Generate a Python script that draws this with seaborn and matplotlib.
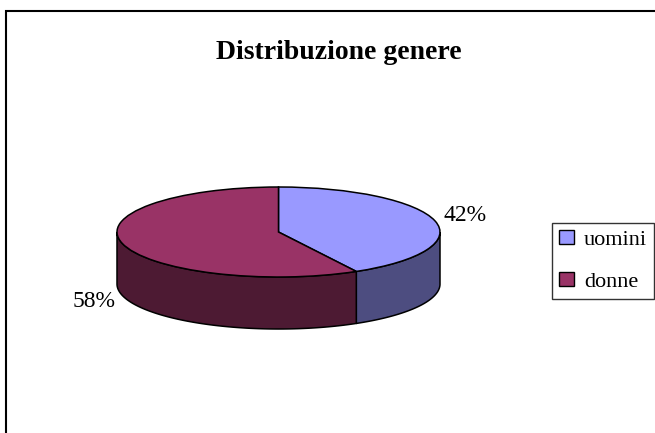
import numpy as np
import matplotlib
matplotlib.use("Agg")
import matplotlib.pyplot as plt
from matplotlib.patches import Rectangle, Patch
import seaborn as sns

# data
categories = ["uomini", "donne"]
shares = [42, 58]
pct_labels = ["42%", "58%"]
top_colors = ["#9999FF", "#993366"]

sns.set_theme(style="white")
plt.rcParams["font.family"] = ["Liberation Serif", "DejaVu Serif"]
plt.rcParams["text.color"] = "black"

# top ellipse in pixels: centre (278.5, 232), half axes 161.5 x 45, side depth 52
W, H = 655, 433
cx, cy, a, b, depth = 278.5, 232, 161.5, 45, 52
D = depth / b

side_colors = [tuple(c * 0.5 for c in matplotlib.colors.to_rgb(col)) for col in top_colors]

fig = plt.figure(figsize=(W / 100, H / 100), dpi=100)
ax = fig.add_axes([0, 0, 1, 1])

wedges, _ = ax.pie(shares, startangle=90, counterclock=False, colors=top_colors,
                   wedgeprops=dict(edgecolor="black", linewidth=1.1), radius=1)
for w in wedges:
    w.set_zorder(3)

ax.set_aspect("auto")
ax.set_xlim(-cx / a, (W - cx) / a)
ax.set_ylim(-(H - cy) / b, cy / b)
ax.axis("off")

# visible side band of each slice (front half of the cylinder)
for w, col in zip(wedges, side_colors):
    for k in range(-2, 2):
        lo = max(w.theta1, -180 + 360 * k)
        hi = min(w.theta2, 0 + 360 * k)
        if hi <= lo:
            continue
        t = np.radians(np.linspace(lo, hi, 120))
        xs = np.concatenate([np.cos(t), np.cos(t)[::-1]])
        ys = np.concatenate([np.sin(t), np.sin(t)[::-1] - D])
        ax.fill(xs, ys, facecolor=col, edgecolor="black", linewidth=1.1, zorder=2)

# percentage labels outside the slices
for w, lab in zip(wedges, pct_labels):
    mid = np.radians((w.theta1 + w.theta2) / 2)
    x, y = 1.19 * np.cos(mid), 1.19 * np.sin(mid)
    if y < 0:
        x += 0.01
        y -= D + 0.1
    else:
        y += 0.07
    ax.text(x, y, lab, ha="center", va="center", fontsize=17, color="black")

fig.text(339 / W, 1 - 59 / H, "Distribuzione genere", ha="center", va="baseline",
         fontsize=20, fontweight="bold", color="black")

# chart frame (only left and top edges fall inside the image)
fig.add_artist(Rectangle((6 / W, -0.2), 1.3, 1.2 - 11 / H, transform=fig.transFigure,
                         fill=False, edgecolor="black", linewidth=1.5))

handles = [Patch(facecolor=c, edgecolor="black", linewidth=1) for c in top_colors]
leg = fig.legend(handles, categories, loc="upper left",
                 bbox_to_anchor=(552 / W, 1 - 223 / H), borderaxespad=0,
                 fontsize=16, frameon=True, fancybox=False, framealpha=1,
                 edgecolor="#333333", handlelength=0.68, handleheight=0.62,
                 handletextpad=0.45, borderpad=0.3, labelspacing=1.0)
leg.get_frame().set_linewidth(1)
for txt in leg.get_texts():
    txt.set_color("black")

fig.savefig("out.png", dpi=100)
